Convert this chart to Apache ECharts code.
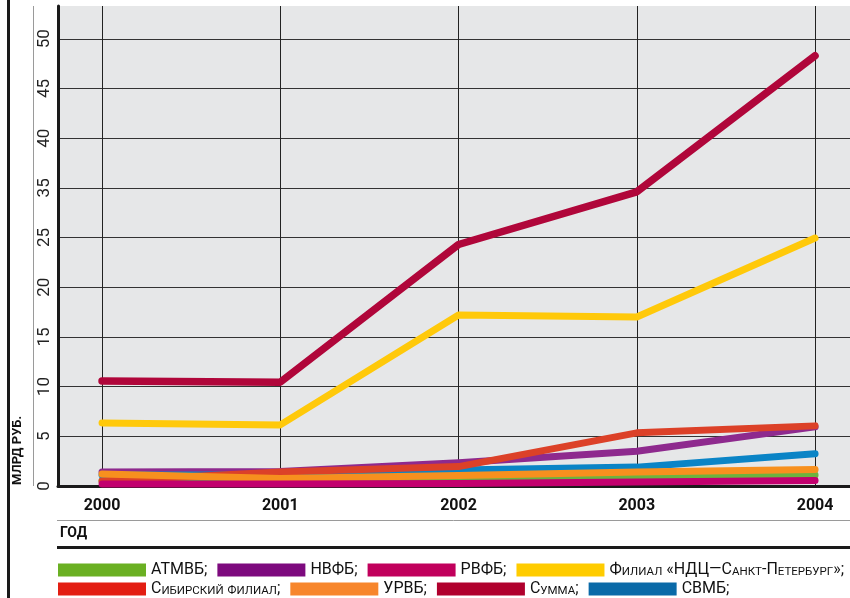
<!DOCTYPE html>
<html lang="ru">
<head>
    <meta charset="UTF-8">
    <title>Объёмы торгов</title>
    <script src="https://cdn.jsdelivr.net/npm/echarts@6/dist/echarts.min.js"></script>
</head>
<body style="margin:0;">
    <div id="echarts" style="width: 850px; height: 598px;"></div>
    <script>
        // годы и значения (млрд руб.)
        const years = [2000, 2001, 2002, 2003, 2004];
        const summa = [10.56, 10.45, 24.3, 29.6, 43.3];
        const filial = [6.35, 6.15, 17.2, 17.0, 24.95];
        const sibir = [0.5, 1.4, 1.95, 5.35, 6.05];
        const nvfb = [1.4, 1.45, 2.35, 3.5, 5.95];
        const svmb = [1.1, 1.1, 1.6, 1.9, 3.25];
        const urvb = [1.2, 0.75, 1.05, 1.4, 1.65];
        const atmvb = [0.5, 0.45, 0.65, 0.8, 1.1];
        const rvfb = [0.2, 0.2, 0.25, 0.4, 0.55];
        const yTicks = [0, 5, 10, 15, 20, 25, 35, 40, 45, 50]; // подписи оси (30 пропущено как в оригинале)

        const legendRow1 = ['АТМВБ', 'НВФБ', 'РВФБ', 'Филиал «НДЦ—Санкт-Петербург»'];
        const legendRow2 = ['Сибирский филиал', 'УРВБ', 'Сумма', 'СВМБ'];
        const legendColors = {
            'АТМВБ': '#6ab023', 'НВФБ': '#7d0a7e', 'РВФБ': '#c1005c',
            'Филиал «НДЦ—Санкт-Петербург»': '#ffcc00', 'Сибирский филиал': '#e31e12',
            'УРВБ': '#f7862c', 'Сумма': '#b0002d', 'СВМБ': '#0a6aa8'
        };

        const FONT = 'Roboto, "Liberation Sans", sans-serif';

        // капитель для подписей легенды
        function smallCaps(name){
            let out = '', buf = '', mode = null;
            for (const ch of name + ';') {
                const low = ch !== ch.toUpperCase();
                const m = low ? 's' : 'c';
                if (mode && m !== mode && buf) { out += '{' + mode + '|' + buf + '}'; buf = ''; }
                mode = m;
                buf += low ? ch.toUpperCase() : ch;
            }
            if (buf) out += '{' + mode + '|' + buf + '}';
            return out;
        }

        function line(name, values, color, width){
            return {
                name: name,
                type: 'line',
                data: years.map((y, i) => [y, values[i]]),
                showSymbol: false,
                symbol: 'none',
                color: color,
                lineStyle: {width: width || 7, color: color, cap: 'round', join: 'round'},
                emphasis: {disabled: true}
            };
        }

        const legendText = {
            fontFamily: FONT,
            color: '#111',
            rich: {
                c: {fontSize: 16, lineHeight: 16, fontFamily: FONT, color: '#111', verticalAlign: 'bottom'},
                s: {fontSize: 11.5, lineHeight: 12.5, fontFamily: FONT, color: '#111', verticalAlign: 'bottom'}
            }
        };

        const myChart = echarts.init(document.querySelector('#echarts'));
        const option = {
            animation: false,
            grid: {
                left: 58, right: 0, top: 6, bottom: 112,
                show: true, backgroundColor: '#e6e7e8', borderWidth: 0
            },
            xAxis: {
                type: 'value',
                min: 1999.753,
                max: 2004.196,
                axisLine: {lineStyle: {color: '#1a1a1a', width: 3}},
                axisTick: {show: false, customValues: years},
                axisLabel: {
                    customValues: years,
                    margin: 12, color: '#111', fontFamily: FONT, fontWeight: 'bold', fontSize: 16,
                    formatter: v => String(Math.round(v))
                },
                splitLine: {show: true, lineStyle: {color: '#222', width: 1}}
            },
            yAxis: {
                type: 'value',
                min: 0,
                max: 48.3,
                interval: 5,
                axisLine: {show: true, lineStyle: {color: '#1a1a1a', width: 3}},
                axisTick: {show: false},
                axisLabel: {
                    showMaxLabel: false,
                    rotate: 90, margin: 5, color: '#222', fontFamily: FONT, fontSize: 17,
                    formatter: v => String(yTicks[Math.round(v / 5)])
                },
                splitLine: {show: true, showMaxLine: false, lineStyle: {color: '#333', width: 1}}
            },
            legend: [
                {
                    data: legendRow1.map(n => ({name: n, icon: 'rect', itemStyle: {color: legendColors[n]}})),
                    left: 58, top: 562, width: 792, itemWidth: 88, itemHeight: 13, itemGap: 10,
                    selectedMode: false, padding: 0,
                    formatter: smallCaps, textStyle: legendText
                },
                {
                    data: legendRow2.map(n => ({name: n, icon: 'rect', itemStyle: {color: legendColors[n]}})),
                    left: 58, top: 581, width: 792, itemWidth: 88, itemHeight: 13, itemGap: 10,
                    selectedMode: false, padding: 0,
                    formatter: smallCaps, textStyle: legendText
                }
            ],
            graphic: [
                {type: 'rect', shape: {x: 7, y: 0, width: 3, height: 598}, style: {fill: '#1a1a1a'}, silent: true},
                {type: 'line', shape: {x1: 33.5, y1: 6, x2: 33.5, y2: 486}, style: {stroke: '#9a9a9a', lineWidth: 1}, silent: true},
                {type: 'line', shape: {x1: 57, y1: 520.5, x2: 850, y2: 520.5}, style: {stroke: '#9a9a9a', lineWidth: 1}, silent: true},
                {type: 'rect', shape: {x: 57, y: 546, width: 793, height: 3}, style: {fill: '#1a1a1a'}, silent: true},
                {type: 'text', x: 60, y: 533, style: {text: 'ГОД', fill: '#111', font: 'bold 14px ' + FONT, verticalAlign: 'middle'}, silent: true},
                {type: 'text', x: 18, y: 485, rotation: Math.PI / 2,
                    style: {text: 'МЛРД РУБ.', fill: '#111', font: 'bold 13px ' + FONT, verticalAlign: 'middle', align: 'left'}, silent: true}
            ],
            series: [
                line('НВФБ', nvfb, '#8e2a8e'),
                line('АТМВБ', atmvb, '#6cb33f'),
                line('СВМБ', svmb, '#0a84c6'),
                line('Сибирский филиал', sibir, '#dc4128'),
                line('УРВБ', urvb, '#f7901e'),
                line('РВФБ', rvfb, '#c2006e'),
                line('Филиал «НДЦ—Санкт-Петербург»', filial, '#ffc90a'),
                line('Сумма', summa, '#b0063a', 7.5)
            ]
        };
        myChart.setOption(option);
    </script>
</body>
</html>
